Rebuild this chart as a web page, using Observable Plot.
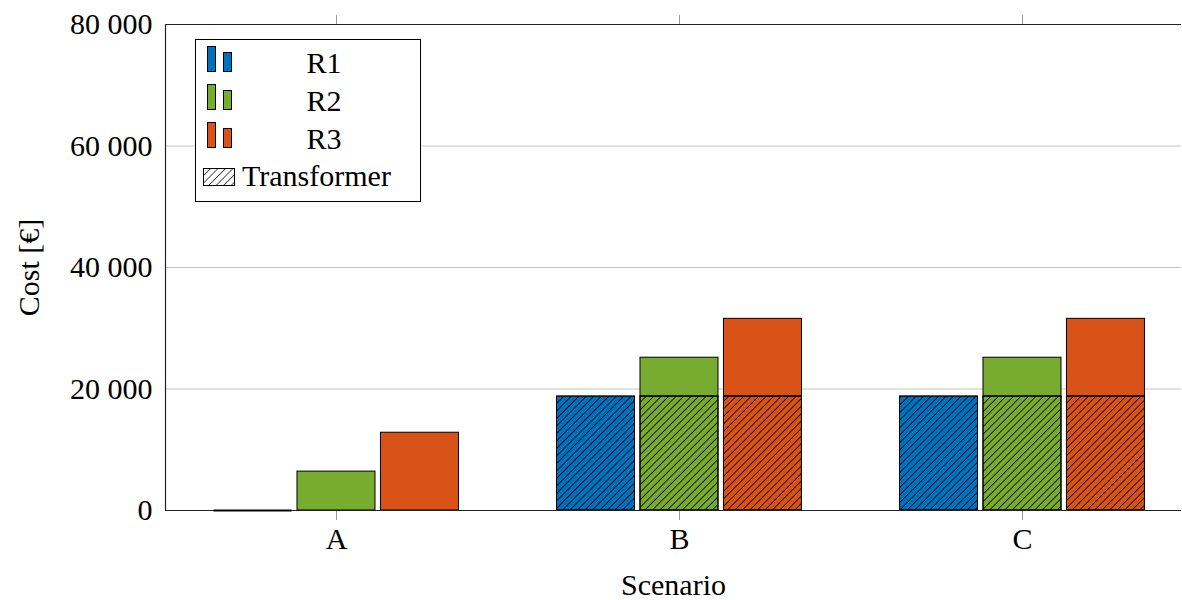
<!DOCTYPE html>
<html>
<head>
<meta charset="utf-8">
<script src="https://cdn.jsdelivr.net/npm/d3@7"></script>
<script src="https://cdn.jsdelivr.net/npm/@observablehq/plot@0.6"></script>
<style>
  html, body { margin: 0; padding: 0; background: #fff; }
  #wrap { position: relative; width: 1182px; height: 600px; font-family: "Liberation Serif", serif; color: #000; }
  #legend { position: absolute; left: 195px; top: 39px; width: 224px; height: 161px; border: 1px solid #000; background: #fff; }
  #legend svg { display: block; }
</style>
</head>
<body>
<div id="wrap"></div>
<script>
// ---- data ----
const scenarios = ["A", "B", "C"];
const regions = ["R1", "R2", "R3"];
const transformerCost = [0, 18750, 18750];   // per scenario
const costR1 = [0, 18750, 18750];
const costR2 = [6400, 25150, 25150];
const costR3 = [12800, 31550, 31550];
const colors = ["#0072BD", "#77AC30", "#D95319"];
const yTicks = [0, 20000, 40000, 60000, 80000];
const legendLabels = ["R1", "R2", "R3"];
const hatchLabel = "Transformer";

const costs = [costR1, costR2, costR3];
const rows = [];
regions.forEach((r, ri) => scenarios.forEach((s, si) => {
  const total = costs[ri][si];
  rows.push({scenario: s, si, region: r, ri, total, transformer: Math.min(total, transformerCost[si])});
}));

const STEP = 0.2434, HALF = 0.1137;
const x1 = d => d.si + (d.ri - 1) * STEP - HALF;
const x2 = d => d.si + (d.ri - 1) * STEP + HALF;

const defs = () => {
  const g = d3.create("svg:defs");
  const p = g.append("pattern").attr("id", "hatch").attr("patternUnits", "userSpaceOnUse")
    .attr("width", 5.3).attr("height", 10).attr("patternTransform", "rotate(45)");
  p.append("line").attr("x1", 0).attr("y1", 0).attr("x2", 0).attr("y2", 10)
    .attr("stroke", "#000").attr("stroke-width", 1.6);
  return g.node();
};

const fmt = v => d3.format(",")(v).replace(/,/g, "\u00a0");

const chart = Plot.plot({
  width: 1182,
  height: 600,
  marginLeft: 165,
  marginRight: 1,
  marginTop: 24,
  marginBottom: 90,
  style: {fontFamily: "Liberation Serif, serif", fontSize: "30px", background: "#fff", color: "#000", overflow: "visible"},
  x: {domain: [-0.4985, 2.4636]},
  y: {domain: [0, 80000]},
  color: {domain: regions, range: colors},
  marks: [
    defs,
    Plot.gridY(yTicks.filter(t => t > 0 && t < 80000), {stroke: "#c4c4c4", strokeOpacity: 1, strokeWidth: 1}),
    Plot.axisY(yTicks, {tickSize: 0, tickPadding: 13, tickFormat: fmt, label: "Cost [€]", labelAnchor: "center", labelArrow: "none", labelOffset: 148, fontSize: 30}),
    Plot.axisX([0, 1, 2], {anchor: "bottom", tickSize: 10, tickPadding: 7, stroke: "#999", tickFormat: i => scenarios[i], label: "Scenario", labelAnchor: "center", labelArrow: "none", labelOffset: 84, fontSize: 30}),
    Plot.axisX([0, 1, 2], {anchor: "top", tickSize: 10, stroke: "#999", text: null, label: null}),
    // upper (non-transformer) part
    Plot.rectY(rows, {x1, x2, y1: "transformer", y2: "total", fill: "region", stroke: "#000", strokeWidth: 1}),
    // transformer part: colour then hatch
    Plot.rectY(rows.filter(d => d.transformer > 0), {x1, x2, y1: 0, y2: "transformer", fill: "region", stroke: "#000", strokeWidth: 1}),
    Plot.rectY(rows.filter(d => d.transformer > 0), {x1, x2, y1: 0, y2: "transformer", fill: "url(#hatch)", stroke: "#000", strokeWidth: 1}),
    // frame (left, top, bottom)
    Plot.ruleY([0], {stroke: "#222", strokeWidth: 1.2}),
    Plot.ruleY([80000], {stroke: "#222", strokeWidth: 1.2}),
    Plot.ruleX([-0.4985], {stroke: "#222", strokeWidth: 1.2}),
    // zero-height bars still show as a line
    Plot.ruleY(rows.filter(d => d.total === 0), {x1, x2, y: 0, stroke: "#000", strokeWidth: 2})
  ]
});

const wrap = document.getElementById("wrap");
wrap.appendChild(chart);

// ---- legend ----
const leg = document.createElement("div");
leg.id = "legend";
wrap.appendChild(leg);
const ls = d3.select(leg).append("svg").attr("width", 224).attr("height", 161)
  .style("font-family", "Liberation Serif, serif").style("font-size", "30px");
const ldefs = ls.append("defs");
const lp = ldefs.append("pattern").attr("id", "hatchL").attr("patternUnits", "userSpaceOnUse")
  .attr("width", 5.3).attr("height", 10).attr("patternTransform", "rotate(45)");
lp.append("line").attr("x1", 0).attr("y1", 0).attr("x2", 0).attr("y2", 10).attr("stroke", "#000").attr("stroke-width", 1.3);
legendLabels.forEach((lab, i) => {
  const g = ls.append("g").attr("transform", `translate(0,${i * 38})`);
  g.append("rect").attr("x", 11.5).attr("y", 6.5).attr("width", 8).attr("height", 25).attr("fill", colors[i]).attr("stroke", "#000");
  g.append("rect").attr("x", 27.5).attr("y", 12.5).attr("width", 8).attr("height", 19).attr("fill", colors[i]).attr("stroke", "#000");
  g.append("text").attr("x", 128).attr("y", 33).attr("text-anchor", "middle").text(lab);
});
ls.append("rect").attr("x", 7.5).attr("y", 128.5).attr("width", 31).attr("height", 17).attr("fill", "url(#hatchL)").attr("stroke", "#000");
ls.append("text").attr("x", 46).attr("y", 146).text(hatchLabel);
</script>
</body>
</html>
